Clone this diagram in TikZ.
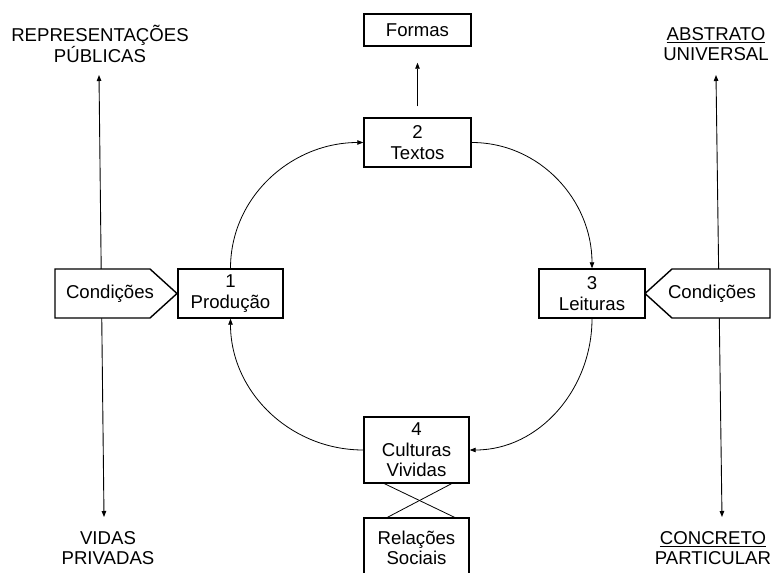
\documentclass[tikz,border=0pt]{standalone}
\usepackage{fontspec}
\setmainfont{Liberation Sans}
\usetikzlibrary{arrows.meta}
\begin{document}
\begin{tikzpicture}[x=1pt,y=-1pt,
  txt/.style={font=\fontsize{18.6}{20.5}\selectfont, align=center, inner sep=0pt},
  box/.style={txt, draw, line width=1.4pt, fill=white},
  conn/.style={line width=0.8pt, -{Triangle[length=6pt,width=4.5pt]}},
  dconn/.style={line width=0.9pt, {Triangle[length=6pt,width=4.5pt]}-{Triangle[length=6pt,width=4.5pt]}},
  condbox/.style={draw, line width=1.4pt, fill=white}]
\useasboundingbox (0,0) rectangle (772,573);
\clip (0,0) rectangle (772,573);
\fill[white] (0,0) rectangle (772,573);

% side labels
\node[txt] (rep) at (100,44) {REPRESENTAÇÕES\\PÚBLICAS};
\node[txt] (vidas) at (108,548) {VIDAS\\PRIVADAS};
\node[txt] (abs) at (716,44) {\underline{ABSTRATO}\\UNIVERSAL};
\node[txt] (conc) at (713,548) {\underline{CONCRETO}\\PARTICULAR};

\coordinate (lt) at (99,75);
\coordinate (lb) at (104,517);
\coordinate (rt) at (716,75);
\coordinate (rb) at (722,517);
\draw[dconn] (lt) -- (lb);
\draw[dconn] (rt) -- (rb);

% Condicoes shapes
\draw[condbox] (55,269) -- (150,269) -- (177,293.5) -- (150,318) -- (55,318) -- cycle;
\node[txt] (condL) at (110,294) {Condições};
\draw[condbox] (770,269) -- (672,269) -- (645,293.5) -- (672,318) -- (770,318) -- cycle;
\node[txt] (condR) at (712,294) {Condições};

% main boxes
\node[box, minimum width=107pt, minimum height=32pt] (formas) at (417.5,30) {Formas};
\node[box, minimum width=107pt, minimum height=49pt] (textos) at (417.5,142.5) {2\\Textos};
\node[box, minimum width=105pt, minimum height=49pt] (producao) at (230.5,293.5) {1\\Produção};
\node[box, minimum width=106pt, minimum height=49pt] (leituras) at (592,293.5) {3\\Leituras};
\node[box, minimum width=105pt, minimum height=66pt] (culturas) at (416.5,450) {4\\Culturas\\Vividas};
\node[box, minimum width=105pt, minimum height=60pt] (relacoes) at (416.5,548) {Relações\\Sociais};

% connectors
\draw[conn, shorten <=11pt, shorten >=16pt] (textos.north) -- (formas.south);
\draw[conn] (producao.north) to[out=90,in=180] (textos.west);
\draw[conn] (textos.east) to[out=0,in=90] (leituras.north);
\draw[conn] (leituras.south) to[out=-90,in=0] (culturas.east);
\draw[conn] (culturas.west) to[out=180,in=-90] (producao.south);

\draw[line width=0.8pt] ([xshift=-32pt]culturas.south) -- ([xshift=38pt]relacoes.north);
\draw[line width=0.8pt] ([xshift=35pt]culturas.south) -- ([xshift=-29pt]relacoes.north);
\end{tikzpicture}
\end{document}
